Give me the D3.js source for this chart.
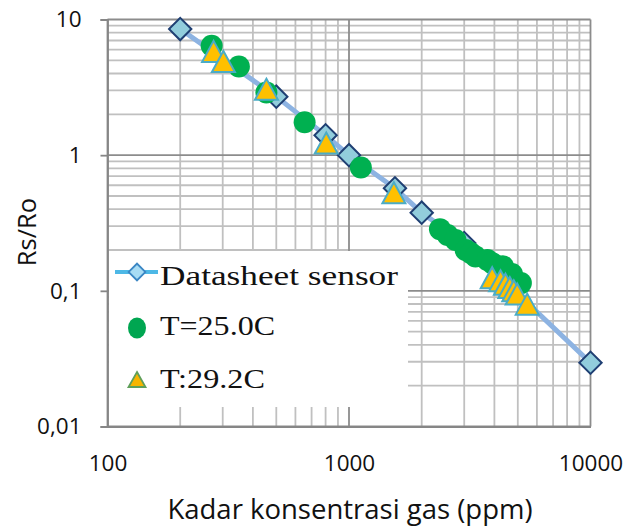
<!DOCTYPE html>
<html><head><meta charset="utf-8">
<script src="https://cdn.jsdelivr.net/npm/d3@7/dist/d3.min.js"></script>
<style>html,body{margin:0;padding:0;background:#fff;}svg{display:block;}</style>
</head><body><div id="chart"></div>
<script>
// ---- data ----
const xTickValues = [100, 1000, 10000];
const xTickLabels = ["100", "1000", "10000"];
const yTickValues = [10, 1, 0.1, 0.01];
const yTickLabels = ["10", "1", "0,1", "0,01"];
const seriesNames = ["Datasheet sensor", "T=25.0C", "T:29.2C"];

const datasheetPpm = [200, 500, 800, 1000, 1550, 2000, 3000, 10000];
const datasheetRs  = [8.5, 2.7, 1.4, 1.0, 0.57, 0.377, 0.225, 0.0295];

const t25Ppm = [270, 350, 455, 655, 1120, 2380, 2560, 2760, 3040, 3190, 3340, 3740, 3920, 4340, 4730, 5150];
const t25Rs  = [6.4, 4.5, 2.9, 1.75, 0.81, 0.285, 0.258, 0.237, 0.2, 0.19, 0.179, 0.169, 0.16, 0.152, 0.133, 0.114];

const t29Ppm = [275, 302, 455, 805, 1534, 3917, 4240, 4446, 4634, 4812, 4970, 5470];
const t29Rs  = [5.82, 4.91, 3.06, 1.23, 0.528, 0.125, 0.1185, 0.112, 0.1057, 0.100, 0.0946, 0.0798];

// ---- layout ----
const W = 637, H = 527;
const L = 107.5, R = 590.5, T = 19.5, B = 426.5;

const svg = d3.select("#chart").append("svg").attr("width", W).attr("height", H);
const x = d3.scaleLog().domain([100, 10000]).range([L, R]);
const y = d3.scaleLog().domain([0.01, 10]).range([B, T]);

// minor gridlines
const minorX = [], minorY = [];
[100, 1000].forEach(d => { for (let k = 2; k <= 9; k++) minorX.push(d * k); });
[0.01, 0.1, 1].forEach(d => { for (let k = 2; k <= 9; k++) minorY.push(+(d * k).toPrecision(3)); });

const grid = svg.append("g");
grid.selectAll(".mx").data(minorX).join("line")
  .attr("x1", d => x(d)).attr("x2", d => x(d)).attr("y1", T).attr("y2", B)
  .attr("stroke", "#c0c0c0").attr("stroke-width", 1.8);
grid.selectAll(".my").data(minorY).join("line")
  .attr("y1", d => y(d)).attr("y2", d => y(d)).attr("x1", L).attr("x2", R)
  .attr("stroke", "#c0c0c0").attr("stroke-width", 1.8);
// major gridlines
grid.selectAll(".Mx").data(xTickValues).join("line")
  .attr("x1", d => x(d)).attr("x2", d => x(d)).attr("y1", T).attr("y2", B)
  .attr("stroke", "#8c8c8c").attr("stroke-width", 1.8);
grid.selectAll(".My").data(yTickValues).join("line")
  .attr("y1", d => y(d)).attr("y2", d => y(d)).attr("x1", L).attr("x2", R)
  .attr("stroke", "#8c8c8c").attr("stroke-width", 1.8);

// axes
const xAxis = d3.axisBottom(x).tickValues(xTickValues).tickSize(0).tickPadding(29)
  .tickFormat((d, i) => xTickLabels[i]);
const gx = svg.append("g").attr("transform", `translate(0,${B})`).call(xAxis);
gx.select(".domain").attr("stroke", "#868686").attr("stroke-width", 1.8);
gx.selectAll("text").attr("font-family", "'Open Sans'").attr("font-size", 22.5).attr("fill", "#111");

const yAxis = d3.axisLeft(y).tickValues(yTickValues).tickSize(7).tickPadding(19)
  .tickFormat((d, i) => yTickLabels[i]);
const gy = svg.append("g").attr("transform", `translate(${L},0)`).call(yAxis);
gy.select(".domain").attr("stroke", "#868686").attr("stroke-width", 1.8);
gy.selectAll(".tick line").attr("stroke", "#868686").attr("stroke-width", 1.8);
gy.selectAll("text").attr("font-family", "'Open Sans'").attr("font-size", 22.5).attr("fill", "#111");

// axis titles
svg.append("text").attr("x", (L + R) / 2 + 1).attr("y", 519)
  .attr("text-anchor", "middle").attr("font-family", "'Open Sans'").attr("font-size", 27.5)
  .attr("fill", "#111").text("Kadar konsentrasi gas (ppm)");
svg.append("text").attr("transform", "translate(36,232) rotate(-90)")
  .attr("text-anchor", "middle").attr("font-family", "'Open Sans'").attr("font-size", 25.5)
  .attr("fill", "#111").text("Rs/Ro");

// legend box
const leg = svg.append("g");
leg.append("rect").attr("x", 109).attr("y", 251).attr("width", 299).attr("height", 156).attr("fill", "#fff");

// ---- series ----
const dsData = datasheetPpm.map((v, i) => [v, datasheetRs[i]]);
const c25 = t25Ppm.map((v, i) => [v, t25Rs[i]]);
const c29 = t29Ppm.map((v, i) => [v, t29Rs[i]]);

const line = d3.line().x(d => x(d[0])).y(d => y(d[1]));
svg.append("path").attr("d", line(dsData)).attr("fill", "none")
  .attr("stroke", "#8db3e2").attr("stroke-width", 5).attr("stroke-linejoin", "round");

const diamond = d3.symbol().type(d3.symbolSquare).size(250);
svg.selectAll(".dia").data(dsData).join("path")
  .attr("d", diamond)
  .attr("transform", d => `translate(${x(d[0])},${y(d[1])}) rotate(45)`)
  .attr("fill", "#92cddc").attr("stroke", "#1f3f73").attr("stroke-width", 2);

svg.selectAll(".c25").data(c25).join("circle")
  .attr("cx", d => x(d[0])).attr("cy", d => y(d[1])).attr("r", 11)
  .attr("fill", "#00b050");

function tri(hw, hh) { return `M0,${-hh}L${hw},${hh}L${-hw},${hh}Z`; }
svg.selectAll(".t29").data(c29).join("path")
  .attr("d", tri(11.5, 10.5))
  .attr("transform", d => `translate(${x(d[0])},${y(d[1])})`)
  .attr("fill", "#ffc000").attr("stroke", "#4bacc6").attr("stroke-width", 2).attr("stroke-linejoin", "miter");

// ---- legend items ----
leg.raise();
leg.append("line").attr("x1", 115).attr("x2", 158).attr("y1", 272).attr("y2", 272)
  .attr("stroke", "#4db8e6").attr("stroke-width", 4);
leg.append("path").attr("d", d3.symbol().type(d3.symbolSquare).size(140)())
  .attr("transform", "translate(137,272) rotate(45)")
  .attr("fill", "#a8dcf4").attr("stroke", "#3a86c4").attr("stroke-width", 1.8);
leg.append("ellipse").attr("cx", 137).attr("cy", 328).attr("rx", 9).attr("ry", 10.5).attr("fill", "#00a651");
leg.append("path").attr("d", tri(8.5, 7.5)).attr("transform", "translate(137,379.5)")
  .attr("fill", "#f7b500").attr("stroke", "#5f9f5a").attr("stroke-width", 1.8);

const legY = [285, 335, 388];
const legW = [238, 115, 105];
leg.selectAll(".lt").data(seriesNames).join("text")
  .attr("x", 160).attr("y", (d, i) => legY[i])
  .attr("font-family", "'Liberation Serif'").attr("font-size", 28)
  .attr("textLength", (d, i) => legW[i]).attr("lengthAdjust", "spacingAndGlyphs")
  .attr("fill", "#111").text(d => d);
</script></body></html>
